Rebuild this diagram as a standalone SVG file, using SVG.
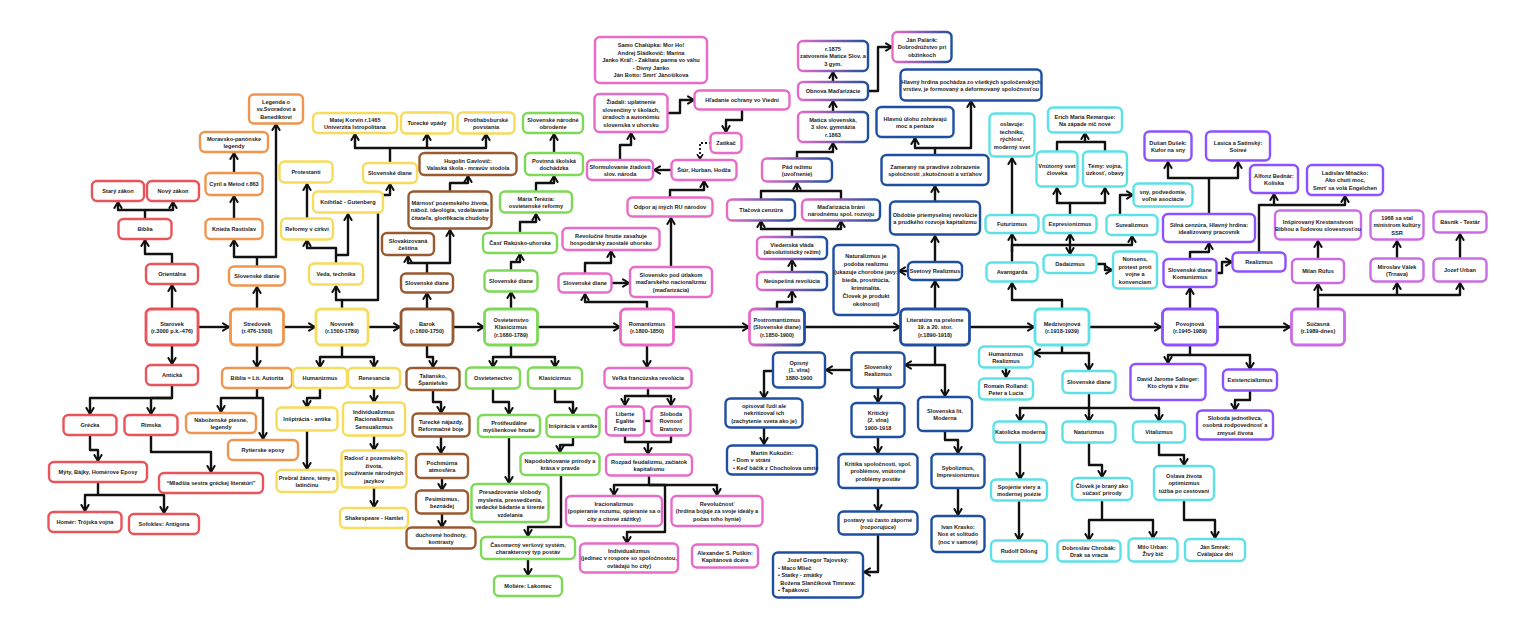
<svg xmlns="http://www.w3.org/2000/svg" width="1536" height="631" viewBox="0 0 1536 631">
<defs>
<linearGradient id="pbg" x1="0" y1="0" x2="1" y2="0"><stop offset="0" stop-color="#e86bc8"/><stop offset="1" stop-color="#1e4fa0"/></linearGradient>
<marker id="ah" viewBox="0 0 8 8" markerWidth="4" markerHeight="4" refX="6" refY="4" orient="auto" markerUnits="strokeWidth"><path d="M1,1 L6,4 L1,7" fill="none" stroke="#111" stroke-width="1.7" stroke-linecap="round" stroke-linejoin="round"/></marker>
<style>
rect{fill:#fff;stroke-width:2.4;rx:5;ry:5}
text{font-family:"Liberation Sans",Arial,sans-serif;font-size:5.6px;font-weight:bold;fill:#222;text-anchor:middle}
.r rect{stroke:#e8545a}.o rect{stroke:#f0954e}.y rect{stroke:#f7dc5c}.b rect{stroke:#9a5a30}.g rect{stroke:#7ed957}.p rect{stroke:#e86bc8}.pb rect{stroke:url(#pbg)}.bl rect{stroke:#1e4fa0}.c rect{stroke:#5ce1e6}.pu rect{stroke:#8c52ff}.lp rect{stroke:#cb6ce6}
.big rect{stroke-width:2.8}
#conn path{fill:none;stroke:#111;stroke-width:2.4;stroke-linejoin:round;marker-end:url(#ah)}
#conn path.na{marker-end:none}
#conn path.dot{stroke-dasharray:2 2;stroke-width:1.8}
</style>
</defs>
<rect x="0" y="0" width="1536" height="631" style="fill:#fff;stroke:none"/>
<g id="conn">
<path d="M198,327 H229"/><path d="M283,327 H315"/><path d="M368,327 H400"/><path d="M453,327 H484"/><path d="M538,327 H620"/><path d="M674,327 H749"/><path d="M805,327 H900"/><path d="M970,327 H1034"/><path d="M1089,327 H1161"/><path d="M1217,327 H1290"/>
<path d="M172,309 V285"/><path d="M172,264 V254 H145 V240"/><path d="M145,219 V210 H118 V202"/><path d="M145,210 H173 V202"/>
<path d="M172,345 V364"/><path d="M172,385 V398 H90 V414"/><path d="M172,398 H151 V414"/><path d="M90,435 V450 H98 V461"/><path d="M98,482 V495 H85 V511"/><path d="M98,495 H164 V513"/><path d="M151,435 V452 H211 V472"/>
<path d="M257,309 V287"/><path d="M257,267 V257 H234 V240"/><path d="M257,257 H276 V124"/><path d="M234,219 V196"/><path d="M234,173 V153"/>
<path d="M257,345 V367"/><path d="M257,388 V398 H221 V412"/><path d="M257,398 H263 V439"/>
<path d="M342,309 V300 H336 V286"/><path d="M342,300 H378 V195 H390 V184"/><path d="M336,264 V248 H307 V240"/><path d="M336,255 H348 V214"/><path d="M307,218 V184"/>
<path d="M390,163 V148 H355 V134"/><path d="M390,148 H427 V134"/><path d="M427,148 H486 V134"/>
<path d="M342,345 V357 H320 V367"/><path d="M342,357 H374 V367"/><path d="M320,388 V398 H307 V407"/><path d="M307,431 V469"/><path d="M374,388 V402"/><path d="M374,436 V450"/><path d="M374,488 V507"/>
<path d="M427,309 V293"/><path d="M427,273 V263 H408 V256"/><path d="M427,263 H450 V230"/><path d="M450,192 V183 H468 V176"/>
<path d="M427,345 V357 H433 V367"/><path d="M433,390 V402 H441 V413"/><path d="M441,437 V453"/><path d="M442,478 V490"/><path d="M442,514 V527"/>
<path d="M511,309 V292"/><path d="M511,270 V262 H520 V254"/><path d="M520,233 V222 H536 V214"/><path d="M536,192 V183 H554 V176"/><path d="M554,153 V134"/>
<path d="M511,345 V357 H493 V367"/><path d="M511,357 H555 V367"/><path d="M493,389 V402 H509 V414"/><path d="M509,437 V483"/><path d="M555,389 V402 H573 V414"/><path d="M573,437 V445 H560 V452"/><path d="M561,475 V527 H528 V536"/><path d="M528,559 V575"/>
<path d="M647,309 V302 H585 V294"/><path d="M585,273 V263 H611 V251"/><path d="M612,283 H629"/><path d="M671,267 V218"/><path d="M670,198 V190 H704 V181"/><path d="M672,170 H654"/><path d="M620,160 V145 H631 V133"/><path d="M668,113 H680 V100 H694"/><path d="M742,109 V120 H726 V132"/><path class="dot" d="M711,143 H700 V159"/>
<path d="M647,345 V367"/><path d="M648,388 V396 H625 V405"/><path d="M648,396 H671 V405"/><path class="na" d="M644,421 H652"/><path class="na" d="M625,435 V442 H671 V435"/><path d="M648,442 V454"/>
<path d="M649,476 V485 H614 V495"/><path d="M649,485 H717 V495"/><path d="M649,485 H665 V532 H627 V543"/>
<path d="M777,309 V302 H792 V291"/><path d="M792,272 V260"/><path d="M792,237 V229 H761 V221"/><path d="M792,229 H841 V221"/><path class="na" d="M761,199 V191 H841 V199"/><path d="M797,191 V183"/><path d="M797,159 V152 H833 V143"/><path d="M833,112 V101"/><path d="M833,82 V72"/><path d="M868,91 H878 V47 H892"/>
<path d="M935,309 V281"/><path d="M908,271 H899"/><path d="M935,262 V236"/><path d="M935,202 V186"/><path d="M935,155 V148 H915 V138"/><path d="M935,148 H971 V101"/>
<path d="M935,345 V365 H905"/><path d="M935,365 H945 V396"/><path d="M851,370 H826"/><path d="M773,371 H764 V398"/><path d="M764,428 V444"/><path d="M878,388 V402"/><path d="M878,437 V453"/><path d="M878,488 V511"/><path d="M878,535 V572 H864"/><path d="M945,431 V440 H958 V453"/><path d="M958,488 V515"/>
<path d="M1062,309 V300 H1012 V283"/><path d="M1012,263 V234"/><path d="M1012,215 V158"/><path d="M1012,252 V245 H1132 V236"/><path d="M1070,245 V234"/><path d="M1070,245 V254"/><path d="M1070,215 V203 H1057 V188"/><path d="M1070,203 H1105 V188"/><path class="na" d="M1057,152 V142 H1105 V152"/><path d="M1085,142 V133"/><path d="M1097,264 H1105 V270 H1112"/><path d="M1120,215 V195 H1133"/>
<path d="M1062,345 V353 H1034"/><path d="M1062,353 H1089 V370"/><path d="M1006,368 V377"/><path d="M1089,393 V408 H1020 V421"/><path d="M1089,408 V421"/><path d="M1089,408 H1159 V421"/><path d="M1020,443 V479"/><path d="M1019,501 V540"/><path d="M1089,443 V465 H1102 V477"/><path d="M1102,500 V520 H1089 V540"/><path d="M1102,520 H1153 V538"/><path d="M1159,443 V455 H1184 V465"/><path d="M1184,500 V520 H1215 V538"/>
<path d="M1190,309 V288"/><path d="M1190,259 V252 H1209 V243"/><path d="M1209,214 V178 H1168 V162"/><path d="M1209,178 H1238 V162"/><path d="M1216,273 H1222 V262 H1232"/><path d="M1259,253 V205 H1274 V194"/><path d="M1274,205 H1345 V196"/>
<path d="M1190,345 V355 H1168 V363"/><path d="M1190,355 H1250 V369"/><path d="M1250,391 V400 H1235 V410"/>
<path d="M1318,309 V284"/><path d="M1318,295 H1397 V283"/><path d="M1397,295 H1460 V283"/><path d="M1318,259 V241"/><path d="M1397,259 V241"/><path d="M1460,259 V234"/>
</g>
<g id="n_starovek" class="r big"><rect x="146" y="309" width="52" height="36"/><text x="172" y="325.5">Starovek<tspan x="172" dy="7.5">(r.3000 p.k.-476)</tspan></text></g>
<g id="n_orientalna" class="r"><rect x="146" y="264" width="52" height="20"/><text x="172" y="276.3">Orientálna</text></g>
<g id="n_biblia" class="r"><rect x="118.5" y="219" width="53" height="20"/><text x="145" y="231.3">Biblia</text></g>
<g id="n_stary" class="r"><rect x="92" y="181" width="52" height="20"/><text x="118" y="193.3">Starý zákon</text></g>
<g id="n_novy" class="r"><rect x="147" y="181" width="52" height="20"/><text x="173" y="193.3">Nový zákon</text></g>
<g id="n_anticka" class="r"><rect x="146" y="365" width="52" height="20"/><text x="172" y="377.3">Antická</text></g>
<g id="n_grecka" class="r"><rect x="63.5" y="415" width="53" height="20"/><text x="90" y="427.3">Grécka</text></g>
<g id="n_rimska" class="r"><rect x="124.5" y="415" width="53" height="20"/><text x="151" y="427.3">Rímska</text></g>
<g id="n_myty" class="r"><rect x="49" y="462" width="98" height="20"/><text x="98" y="474.3">Mýty, Bájky, Homérove Eposy</text></g>
<g id="n_mladsia" class="r"><rect x="159" y="473" width="104" height="20"/><text x="211" y="485.3">“Mladšia sestra gréckej literatúri”</text></g>
<g id="n_homer" class="r"><rect x="48.5" y="512" width="73" height="20"/><text x="85" y="524.3">Homér: Trójska vojna</text></g>
<g id="n_sofokles" class="r"><rect x="129" y="514" width="70" height="20"/><text x="164" y="526.3">Sofokles: Antigona</text></g>

<g id="n_stredovek" class="o big"><rect x="230.5" y="309" width="53" height="36"/><text x="257" y="325.5">Stredovek<tspan x="257" dy="7.5">(r.476-1500)</tspan></text></g>
<g id="n_sldianie" class="o"><rect x="229" y="266.5" width="56" height="19"/><text x="257" y="278.3">Slovenské dianie</text></g>
<g id="n_knieza" class="o"><rect x="205.5" y="219" width="57" height="20"/><text x="234" y="231.3">Knieža Rastislav</text></g>
<g id="n_cyril" class="o"><rect x="205.5" y="173" width="57" height="22"/><text x="234" y="186.3">Cyril a Metod r.863</text></g>
<g id="n_moravsko" class="o"><rect x="200" y="132" width="68" height="20"/><text x="234" y="140.5">Moravsko-panónske<tspan x="234" dy="7.5">legendy</tspan></text></g>
<g id="n_legenda" class="o"><rect x="249" y="94.5" width="54" height="29"/><text x="276" y="103.8">Legenda o<tspan x="276" dy="7.5">sv.Svoradovi a</tspan><tspan x="276" dy="7.5">Benediktovi</tspan></text></g>
<g id="n_bibliaaut" class="o"><rect x="222" y="368" width="70" height="20"/><text x="257" y="380.3">Biblia = Lit. Autorita</text></g>
<g id="n_nabozenske" class="o"><rect x="186" y="413" width="70" height="20"/><text x="221" y="421.5">Náboženské piesne,<tspan x="221" dy="7.5">legendy</tspan></text></g>
<g id="n_rytierske" class="o"><rect x="228" y="440" width="70" height="20"/><text x="263" y="452.3">Rytierske eposy</text></g>

<g id="n_novovek" class="y big"><rect x="316" y="309" width="52" height="36"/><text x="342" y="325.5">Novovek<tspan x="342" dy="7.5">(r.1500-1789)</tspan></text></g>
<g id="n_veda" class="y"><rect x="309" y="263.5" width="54" height="21"/><text x="336" y="276.3">Veda, technika</text></g>
<g id="n_reformy" class="y"><rect x="281" y="218.5" width="52" height="21"/><text x="307" y="231.3">Reformy v cirkvi</text></g>
<g id="n_protestanti" class="y"><rect x="279.5" y="161.5" width="53" height="21"/><text x="306" y="174.3">Protestanti</text></g>
<g id="n_knihtlac" class="y"><rect x="313" y="191.5" width="70" height="21"/><text x="348" y="204.3">Kníhtlač - Gutenberg</text></g>
<g id="n_ysldiane" class="y"><rect x="363" y="163" width="54" height="20"/><text x="390" y="175.3">Slovenské diane</text></g>
<g id="n_korvin" class="y"><rect x="313" y="113" width="84" height="20"/><text x="355" y="121.5">Matej Korvín r.1465<tspan x="355" dy="7.5">Univerzita Istropolitana</tspan></text></g>
<g id="n_tureckevpady" class="y"><rect x="401" y="112.5" width="52" height="21"/><text x="427" y="125.3">Turecké vpády</text></g>
<g id="n_protihabs" class="y"><rect x="457.5" y="112.5" width="57" height="21"/><text x="486" y="121.5">Protihabsburské<tspan x="486" dy="7.5">povstania</tspan></text></g>
<g id="n_humanizmus" class="y"><rect x="293" y="368" width="54" height="20"/><text x="320" y="380.3">Humanizmus</text></g>
<g id="n_renesancia" class="y"><rect x="348" y="368" width="52" height="20"/><text x="374" y="380.3">Renesancia</text></g>
<g id="n_inspant" class="y"><rect x="276.5" y="407.5" width="61" height="23"/><text x="307" y="421.3">Inšpirácia - antika</text></g>
<g id="n_prebral" class="y"><rect x="276.5" y="470" width="61" height="22"/><text x="307" y="479.5">Prebral žánre, témy a<tspan x="307" dy="7.5">latinčinu</tspan></text></g>
<g id="n_individ" class="y"><rect x="343" y="402.5" width="62" height="33"/><text x="374" y="413.8">Individualizmus<tspan x="374" dy="7.5">Racionalizmus</tspan><tspan x="374" dy="7.5">Sensualizmus</tspan></text></g>
<g id="n_radost" class="y"><rect x="341.5" y="450.5" width="65" height="37"/><text x="374" y="460">Radosť z pozemského<tspan x="374" dy="7.5">života,</tspan><tspan x="374" dy="7.5">používanie národných</tspan><tspan x="374" dy="7.5">jazykov</tspan></text></g>
<g id="n_shakespeare" class="y"><rect x="340" y="508" width="68" height="20"/><text x="374" y="520.3">Shakespeare - Hamlet</text></g>

<g id="n_barok" class="b big"><rect x="401" y="309" width="52" height="36"/><text x="427" y="325.5">Barok<tspan x="427" dy="7.5">(r.1600-1750)</tspan></text></g>
<g id="n_bsldiane" class="b"><rect x="401" y="273.5" width="52" height="19"/><text x="427" y="285.3">Slovenské diane</text></g>
<g id="n_slovakiz" class="b"><rect x="382" y="233" width="52" height="22"/><text x="408" y="242.5">Slovakizovaná<tspan x="408" dy="7.5">čeština</tspan></text></g>
<g id="n_marnost" class="b"><rect x="408.5" y="191.5" width="83" height="37"/><text x="450" y="204.8">Márnosť pozemského života,<tspan x="450" dy="7.5">nábož. ideológia, vzdelávanie</tspan><tspan x="450" dy="7.5">čitateľa, glorifikacia chudoby</tspan></text></g>
<g id="n_hugolin" class="b"><rect x="419.5" y="153" width="97" height="22"/><text x="468" y="162.5">Hugolín Gavlovič:<tspan x="468" dy="7.5">Valaská škola - mravúv stodola</tspan></text></g>
<g id="n_taliansko" class="b"><rect x="406.5" y="368" width="53" height="22"/><text x="433" y="377.5">Taliansko,<tspan x="433" dy="7.5">Španielsko</tspan></text></g>
<g id="n_tureckenaj" class="b"><rect x="412.5" y="413.5" width="57" height="23"/><text x="441" y="423.5">Turecké nájazdy,<tspan x="441" dy="7.5">Reformačné boje</tspan></text></g>
<g id="n_pochmurna" class="b"><rect x="416" y="454" width="52" height="24"/><text x="442" y="464.5">Pochmúrna<tspan x="442" dy="7.5">atmosféra</tspan></text></g>
<g id="n_pesimizmus" class="b"><rect x="416" y="490.5" width="52" height="23"/><text x="442" y="500.5">Pesimizmus,<tspan x="442" dy="7.5">beznádej</tspan></text></g>
<g id="n_duchovne" class="b"><rect x="406.5" y="527.5" width="69" height="21"/><text x="441" y="536.5">duchovné hodnoty,<tspan x="441" dy="7.5">kontrasty</tspan></text></g>

<g id="n_osvietenstvo" class="g big"><rect x="484.5" y="309" width="53" height="36"/><text x="511" y="321.8">Osvietenstvo<tspan x="511" dy="7.5">Klasicizmus</tspan><tspan x="511" dy="7.5">(r.1680-1789)</tspan></text></g>
<g id="n_gsldiane" class="g"><rect x="484.5" y="270.5" width="53" height="21"/><text x="511" y="283.3">Slovenské diane</text></g>
<g id="n_cast" class="g"><rect x="483" y="233" width="74" height="20"/><text x="520" y="245.3">Časť Rakúsko-uhorska</text></g>
<g id="n_maria" class="g"><rect x="500" y="191.5" width="72" height="21"/><text x="536" y="200.5">Mária Terézia:<tspan x="536" dy="7.5">osvietenské reformy</tspan></text></g>
<g id="n_povinna" class="g"><rect x="525" y="153" width="58" height="22"/><text x="554" y="162.5">Povinná školská<tspan x="554" dy="7.5">dochádzka</tspan></text></g>
<g id="n_obrodenie" class="g"><rect x="523" y="113" width="60" height="20"/><text x="553" y="121.5">Slovenské národné<tspan x="553" dy="7.5">obrodenie</tspan></text></g>
<g id="n_osvietenectvo" class="g"><rect x="466" y="367.5" width="54" height="21"/><text x="493" y="380.3">Osvietenectvo</text></g>
<g id="n_klasicizmus" class="g"><rect x="528" y="367.5" width="54" height="21"/><text x="555" y="380.3">Klasicizmus</text></g>
<g id="n_protifeud" class="g"><rect x="478" y="415" width="62" height="22"/><text x="509" y="424.5">Protifeudálne<tspan x="509" dy="7.5">myšlienkové hnutie</tspan></text></g>
<g id="n_inspvant" class="g"><rect x="546.5" y="415" width="53" height="22"/><text x="573" y="428.3">Inšpirácia v antike</text></g>
<g id="n_napodob" class="g"><rect x="520.5" y="453" width="79" height="22"/><text x="560" y="462.5">Napodobňovanie prírody a<tspan x="560" dy="7.5">krása v pravde</tspan></text></g>
<g id="n_presadz" class="g"><rect x="471.5" y="484" width="77" height="38"/><text x="510" y="494">Presadzovanie slobody<tspan x="510" dy="7.5">myslenia, presvedčenia,</tspan><tspan x="510" dy="7.5">vedecké bádanie a šírenie</tspan><tspan x="510" dy="7.5">vzdelania</tspan></text></g>
<g id="n_casomerny" class="g"><rect x="481" y="537" width="94" height="22"/><text x="528" y="546.5">Časomerný veršový systém,<tspan x="528" dy="7.5">charakterový typ postáv</tspan></text></g>
<g id="n_moliere" class="g"><rect x="494" y="576" width="68" height="20"/><text x="528" y="588.3">Moliére: Lakomec</text></g>

<g id="n_romantizmus" class="p big"><rect x="620.5" y="309" width="53" height="36"/><text x="647" y="325.5">Romantizmus<tspan x="647" dy="7.5">(r.1800-1850)</tspan></text></g>
<g id="n_psldiane" class="p"><rect x="558.5" y="273.5" width="53" height="19"/><text x="585" y="285.3">Slovenské diane</text></g>
<g id="n_revhnutie" class="p"><rect x="562.5" y="228" width="97" height="22"/><text x="611" y="237.5">Revolučné hnutie zasahuje<tspan x="611" dy="7.5">hospodársky zaostalé uhorsko</tspan></text></g>
<g id="n_utlak" class="p"><rect x="630" y="267" width="82" height="30"/><text x="671" y="276.8">Slovensko pod útlakom<tspan x="671" dy="7.5">maďarského nacionalizmu</tspan><tspan x="671" dy="7.5">(maďarizácia)</tspan></text></g>
<g id="n_odpor" class="p"><rect x="627.5" y="197.5" width="85" height="19"/><text x="670" y="209.3">Odpor aj iných RU národov</text></g>
<g id="n_stur" class="p"><rect x="671.5" y="160" width="65" height="20"/><text x="704" y="172.3">Štúr, Hurban, Hodža</text></g>
<g id="n_sformul" class="p"><rect x="587" y="160" width="66" height="20"/><text x="620" y="168.5">Sformulovanie žiadosti<tspan x="620" dy="7.5">slov. národa</tspan></text></g>
<g id="n_ziadali" class="p"><rect x="594.5" y="94" width="73" height="38"/><text x="631" y="104">Žiadali: uplatnenie<tspan x="631" dy="7.5">slovenčiny v školách,</tspan><tspan x="631" dy="7.5">úradoch a autonómiu</tspan><tspan x="631" dy="7.5">slovenska v uhorsku</tspan></text></g>
<g id="n_chalupka" class="p"><rect x="595" y="37" width="112" height="46"/><text x="651" y="47.3">Samo Chalúpka: Mor Ho!<tspan x="651" dy="7.5">Andrej Sládkovič: Marína</tspan><tspan x="651" dy="7.5">Janko Kráľ: - Zakliata panna vo váhu</tspan><tspan x="651" dy="7.5">- Divný Janko</tspan><tspan x="651" dy="7.5">Ján Botto: Smrť Jánošíkova</tspan></text></g>
<g id="n_hladanie" class="p"><rect x="694.5" y="90.5" width="95" height="19"/><text x="742" y="102.3">Hľadanie ochrany vo Viedni</text></g>
<g id="n_zatikac" class="p"><rect x="710.5" y="133" width="31" height="20"/><text x="726" y="145.3">Zatikač</text></g>
<g id="n_velka" class="p"><rect x="604.5" y="368" width="87" height="20"/><text x="648" y="380.3">Veľká francúzska revolúcia</text></g>
<g id="n_liberte" class="p"><rect x="606" y="406.5" width="38" height="29"/><text x="625" y="415.8">Liberte<tspan x="625" dy="7.5">Egalite</tspan><tspan x="625" dy="7.5">Fraterite</tspan></text></g>
<g id="n_sloboda" class="p"><rect x="651.5" y="406.5" width="39" height="29"/><text x="671" y="415.8">Sloboda<tspan x="671" dy="7.5">Rovnosť</tspan><tspan x="671" dy="7.5">Bratstvo</tspan></text></g>
<g id="n_rozpad" class="p"><rect x="606" y="454.5" width="86" height="21"/><text x="649" y="463.5">Rozpad feudalizmu, začiatok<tspan x="649" dy="7.5">kapitalismu</tspan></text></g>
<g id="n_iracion" class="p"><rect x="566" y="496" width="96" height="30"/><text x="614" y="505.8">Iracionalizmus<tspan x="614" dy="7.5">(popieranie rozumu, opieranie sa o</tspan><tspan x="614" dy="7.5">city a citové zážitky)</tspan></text></g>
<g id="n_revoluc" class="p"><rect x="671.5" y="496" width="91" height="30"/><text x="717" y="505.8">Revolučnosť<tspan x="717" dy="7.5">(hrdina bojuje za svoje ideály a</tspan><tspan x="717" dy="7.5">počas toho hynie)</tspan></text></g>
<g id="n_pindivid" class="p"><rect x="580" y="543.5" width="98" height="29"/><text x="629" y="552.8">Individualizmus<tspan x="629" dy="7.5">(jedinec v rospore so spoločnostou,</tspan><tspan x="629" dy="7.5">ovládajú ho city)</tspan></text></g>
<g id="n_puskin" class="p"><rect x="692" y="544.5" width="66" height="23"/><text x="725" y="554.5">Alexander S. Puškin:<tspan x="725" dy="7.5">Kapitánová dcéra</tspan></text></g>

<g id="n_postrom" class="pb big"><rect x="749.5" y="309" width="55" height="36"/><text x="777" y="321.8">Postromantizmus<tspan x="777" dy="7.5">(Slovenské diane)</tspan><tspan x="777" dy="7.5">(r.1850-1900)</tspan></text></g>
<g id="n_neusp" class="pb"><rect x="757" y="272" width="70" height="18"/><text x="792" y="283.3">Neúspešná revolúcia</text></g>
<g id="n_viedenska" class="pb"><rect x="757" y="237" width="70" height="22"/><text x="792" y="246.5">Viedenská vláda<tspan x="792" dy="7.5">(absolutistický režim)</tspan></text></g>
<g id="n_tlacova" class="pb"><rect x="727" y="199.5" width="68" height="21"/><text x="761" y="212.3">Tlačová cenzúra</text></g>
<g id="n_madbrani" class="pb"><rect x="802" y="199.5" width="78" height="21"/><text x="841" y="208.5">Maďarizácia bráni<tspan x="841" dy="7.5">národnému spol. rozvoju</tspan></text></g>
<g id="n_pad" class="pb"><rect x="762" y="158.5" width="70" height="23"/><text x="797" y="168.5">Pád režimu<tspan x="797" dy="7.5">(uvoľnenie)</tspan></text></g>
<g id="n_matica" class="pb"><rect x="798" y="112" width="70" height="30"/><text x="833" y="121.8">Matica slovenská,<tspan x="833" dy="7.5">3 slov. gymnázia</tspan><tspan x="833" dy="7.5">r.1863</tspan></text></g>
<g id="n_obnova" class="pb"><rect x="798" y="82" width="70" height="18"/><text x="833" y="93.3">Obnova Maďarizácie</text></g>
<g id="n_r1875" class="pb"><rect x="798" y="41" width="70" height="30"/><text x="833" y="50.8">r.1875<tspan x="833" dy="7.5">zatvorenie Matice Slov. a</tspan><tspan x="833" dy="7.5">3 gym.</tspan></text></g>
<g id="n_palarik" class="pb"><rect x="892.5" y="32" width="59" height="30"/><text x="922" y="41.8">Ján Palárik:<tspan x="922" dy="7.5">Dobrodrúžstvo pri</tspan><tspan x="922" dy="7.5">obžinkoch</tspan></text></g>

<g id="n_literatura" class="bl big"><rect x="900.5" y="309" width="69" height="36"/><text x="935" y="321.8">Literatúra na prelome<tspan x="935" dy="7.5">19. a 20. stor.</tspan><tspan x="935" dy="7.5">(r.1890-1918)</tspan></text></g>
<g id="n_svetovy" class="bl"><rect x="908" y="262" width="54" height="18"/><text x="935" y="273.3">Svetový Realizmus</text></g>
<g id="n_naturalizmus" class="bl"><rect x="833.5" y="245" width="65" height="70"/><text x="866" y="257.5">Naturalizmus je<tspan x="866" dy="8">podoba realizmu</tspan><tspan x="866" dy="8">(ukazuje chorobné javy:</tspan><tspan x="866" dy="8">bieda, prostitúcia,</tspan><tspan x="866" dy="8">kriminalita.</tspan><tspan x="866" dy="8">Človek je produkt</tspan><tspan x="866" dy="8">okolností)</tspan></text></g>
<g id="n_obdobie" class="bl"><rect x="890" y="201.5" width="90" height="33"/><text x="935" y="216.5">Obdobie priemyselnej revolúcie<tspan x="935" dy="7.5">a prudkého rozvoja kapitalizmu</tspan></text></g>
<g id="n_zamerany" class="bl"><rect x="881.5" y="155" width="107" height="30"/><text x="935" y="168.5">Zameraný na pravdivé zobrazenie<tspan x="935" dy="7.5">spoločnosti ,skutočnosti a vzťahov</tspan></text></g>
<g id="n_hlavnu" class="bl"><rect x="876.5" y="107" width="77" height="30"/><text x="915" y="120.5">Hlavnú úlohu zohrávajú<tspan x="915" dy="7.5">moc a peniaze</tspan></text></g>
<g id="n_hlavny" class="bl"><rect x="900.5" y="69.5" width="141" height="31"/><text x="971" y="83.5">Hlavný hrdina pochádza zo všetkých spoločenských<tspan x="971" dy="7.5">vrstiev, je formovaný a deformovaný spoločnosťou</tspan></text></g>
<g id="n_slrealizmus" class="bl"><rect x="851.5" y="352.5" width="53" height="35"/><text x="878" y="368.5">Slovenský<tspan x="878" dy="7.5">Realizmus</tspan></text></g>
<g id="n_opisny" class="bl"><rect x="773" y="352.5" width="52" height="35"/><text x="799" y="364.8">Opisný<tspan x="799" dy="7.5">(1. vlna)</tspan><tspan x="799" dy="7.5">1880-1900</tspan></text></g>
<g id="n_opisoval" class="bl"><rect x="725.5" y="398.5" width="77" height="29"/><text x="764" y="407.8">opisoval ľudí ale<tspan x="764" dy="7.5">nekritizoval ich</tspan><tspan x="764" dy="7.5">(zachytenie sveta ako je)</tspan></text></g>
<g id="n_kukucin" class="bl"><rect x="727" y="445.5" width="90" height="29"/><text x="772" y="454.8">Martin Kukučín:<tspan x="733" dy="7.5" style="text-anchor:start">•  Dom v stráni</tspan><tspan x="733" dy="7.5" style="text-anchor:start">•  Keď báčik z Chocholova umrie</tspan></text></g>
<g id="n_kriticky" class="bl"><rect x="851.5" y="403" width="53" height="34"/><text x="878" y="414.8">Kritický<tspan x="878" dy="7.5">(2. vlna)</tspan><tspan x="878" dy="7.5">1900-1918</tspan></text></g>
<g id="n_kritika" class="bl"><rect x="838.5" y="454" width="79" height="34"/><text x="878" y="465.8">Kritika spoločnosti, spol.<tspan x="878" dy="7.5">problémov, vnútorné</tspan><tspan x="878" dy="7.5">problémy postáv</tspan></text></g>
<g id="n_postavy" class="bl"><rect x="838.5" y="511.5" width="79" height="23"/><text x="878" y="521.5">postavy sú často záporné<tspan x="878" dy="7.5">(rozporujúce)</tspan></text></g>
<g id="n_tajovsky" class="bl"><rect x="773" y="552.5" width="90" height="45"/><text x="818" y="562">Jozef Gregor Tajovský:<tspan x="778" dy="7.5" style="text-anchor:start">•  Maco Mlieč</tspan><tspan x="778" dy="7.5" style="text-anchor:start">•  Statky - zmätky</tspan><tspan x="818" dy="7.5">Božena Slančíková Timrava:</tspan><tspan x="778" dy="7.5" style="text-anchor:start">•  Ťapákovci</tspan></text></g>
<g id="n_moderna" class="bl"><rect x="918" y="397" width="54" height="34"/><text x="945" y="412.5">Slovenská lit.<tspan x="945" dy="7.5">Moderna</tspan></text></g>
<g id="n_sybolizmus" class="bl"><rect x="931.5" y="454" width="53" height="34"/><text x="958" y="469.5">Sybolizmus,<tspan x="958" dy="7.5">Impresionizmus</tspan></text></g>
<g id="n_krasko" class="bl"><rect x="931.5" y="516" width="53" height="36"/><text x="958" y="528.8">Ivan Krasko:<tspan x="958" dy="7.5">Nox et solitudo</tspan><tspan x="958" dy="7.5">(noc v samote)</tspan></text></g>

<g id="n_medzivojnova" class="c big"><rect x="1035" y="309" width="54" height="36"/><text x="1062" y="325.5">Medzivojnová<tspan x="1062" dy="7.5">(r.1918-1939)</tspan></text></g>
<g id="n_avantgarda" class="c"><rect x="986.5" y="262.5" width="51" height="19"/><text x="1012" y="274.3">Avantgarda</text></g>
<g id="n_futurizmus" class="c"><rect x="985.5" y="215" width="53" height="18"/><text x="1012" y="226.3">Futurizmus</text></g>
<g id="n_oslavuje" class="c"><rect x="989.5" y="113.5" width="45" height="43"/><text x="1012" y="126">oslavuje:<tspan x="1012" dy="7.5">techniku,</tspan><tspan x="1012" dy="7.5">rýchlosť,</tspan><tspan x="1012" dy="7.5">moderný svet</tspan></text></g>
<g id="n_expres" class="c"><rect x="1043.5" y="215" width="53" height="18"/><text x="1070" y="226.3">Expresionizmus</text></g>
<g id="n_vnutorny" class="c"><rect x="1036.5" y="151.5" width="41" height="35"/><text x="1057" y="167.5">Vnútorný svet<tspan x="1057" dy="7.5">človeka</tspan></text></g>
<g id="n_temy" class="c"><rect x="1083" y="151.5" width="44" height="35"/><text x="1105" y="167.5">Témy: vojna,<tspan x="1105" dy="7.5">úzkosť, obavy</tspan></text></g>
<g id="n_remarque" class="c"><rect x="1048" y="107.5" width="74" height="25"/><text x="1085" y="118.5">Erich Maria Remarque:<tspan x="1085" dy="7.5">Na západe nič nové</tspan></text></g>
<g id="n_surealizmus" class="c"><rect x="1106.5" y="215" width="51" height="20"/><text x="1132" y="227.3">Surealizmus</text></g>
<g id="n_sny" class="c"><rect x="1133.5" y="183.5" width="59" height="23"/><text x="1163" y="193.5">sny, podvedomie,<tspan x="1163" dy="7.5">voľné asociácie</tspan></text></g>
<g id="n_dadaizmus" class="c"><rect x="1043.5" y="255" width="53" height="18"/><text x="1070" y="266.3">Dadaizmus</text></g>
<g id="n_nonsens" class="c"><rect x="1113" y="251.5" width="44" height="37"/><text x="1135" y="261">Nonsens,<tspan x="1135" dy="7.5">protest proti</tspan><tspan x="1135" dy="7.5">vojne a</tspan><tspan x="1135" dy="7.5">konvenciam</tspan></text></g>
<g id="n_humreal" class="c"><rect x="979" y="346.5" width="54" height="21"/><text x="1006" y="355.5">Humanizmus<tspan x="1006" dy="7.5">Realizmus</tspan></text></g>
<g id="n_rolland" class="c"><rect x="979" y="378.5" width="54" height="21"/><text x="1006" y="387.5">Romain Rolland:<tspan x="1006" dy="7.5">Peter a Lucia</tspan></text></g>
<g id="n_csldiane" class="c"><rect x="1062.5" y="371" width="53" height="22"/><text x="1089" y="384.3">Slovenské diane</text></g>
<g id="n_katolicka" class="c"><rect x="993.5" y="421.5" width="53" height="21"/><text x="1020" y="434.3">Katolícka moderna</text></g>
<g id="n_naturizmus" class="c"><rect x="1062.5" y="421.5" width="53" height="21"/><text x="1089" y="434.3">Naturizmus</text></g>
<g id="n_vitalizmus" class="c"><rect x="1133" y="421.5" width="52" height="21"/><text x="1159" y="434.3">Vitalizmus</text></g>
<g id="n_spojenie" class="c"><rect x="991" y="479.5" width="56" height="21"/><text x="1019" y="488.5">Spojenie viery a<tspan x="1019" dy="7.5">modernej poézie</tspan></text></g>
<g id="n_clovek" class="c"><rect x="1072" y="478" width="60" height="22"/><text x="1102" y="487.5">Človek je braný ako<tspan x="1102" dy="7.5">súčasť prírody</tspan></text></g>
<g id="n_oslava" class="c"><rect x="1154" y="466" width="60" height="34"/><text x="1184" y="477.8">Oslava života<tspan x="1184" dy="7.5">optimizmus</tspan><tspan x="1184" dy="7.5">túžba po cestovaní</tspan></text></g>
<g id="n_dilong" class="c"><rect x="991" y="540.5" width="56" height="21"/><text x="1019" y="553.3">Rudolf Dilong</text></g>
<g id="n_chrobak" class="c"><rect x="1057.5" y="540.5" width="63" height="21"/><text x="1089" y="549.5">Dobroslav Chrobák:<tspan x="1089" dy="7.5">Drak sa vracia</tspan></text></g>
<g id="n_milo" class="c"><rect x="1128.5" y="538.5" width="49" height="23"/><text x="1153" y="548.5">Milo Urban:<tspan x="1153" dy="7.5">Živý bič</tspan></text></g>
<g id="n_smrek" class="c"><rect x="1185" y="539" width="60" height="22"/><text x="1215" y="548.5">Ján Smrek:<tspan x="1215" dy="7.5">Cválajúce dni</tspan></text></g>

<g id="n_povojnova" class="pu big"><rect x="1162.5" y="309" width="55" height="36"/><text x="1190" y="325.5">Povojnová<tspan x="1190" dy="7.5">(r.1945-1989)</tspan></text></g>
<g id="n_komunizmus" class="pu"><rect x="1163.5" y="259" width="53" height="28"/><text x="1190" y="271.5">Slovenské diane<tspan x="1190" dy="7.5">Komunizmus</tspan></text></g>
<g id="n_silna" class="pu"><rect x="1163" y="214" width="92" height="28"/><text x="1209" y="226.5">Silná cenzúra, Hlavný hrdina:<tspan x="1209" dy="7.5">idealizovaný pracovník</tspan></text></g>
<g id="n_dusek" class="pu"><rect x="1144.5" y="131.5" width="47" height="29"/><text x="1168" y="144.5">Dušan Dušek:<tspan x="1168" dy="7.5">Kufor na sny</tspan></text></g>
<g id="n_lasica" class="pu"><rect x="1206" y="131.5" width="64" height="29"/><text x="1238" y="144.5">Lasica a Satinský:<tspan x="1238" dy="7.5">Soireé</tspan></text></g>
<g id="n_realizmus" class="pu"><rect x="1232.5" y="252.5" width="53" height="19"/><text x="1259" y="264.3">Realizmus</text></g>
<g id="n_bednar" class="pu"><rect x="1250" y="165" width="48" height="28"/><text x="1274" y="177.5">Alfonz Bednár:<tspan x="1274" dy="7.5">Kolíska</tspan></text></g>
<g id="n_mnacko" class="pu"><rect x="1307" y="165" width="76" height="30"/><text x="1345" y="174.8">Ladislav Mňačko:<tspan x="1345" dy="7.5">Ako chutí moc,</tspan><tspan x="1345" dy="7.5">Smrť sa volá Engelchen</tspan></text></g>
<g id="n_salinger" class="pu"><rect x="1130.5" y="364" width="75" height="36"/><text x="1168" y="380.5">David Jarome Salinger:<tspan x="1168" dy="7.5">Kto chytá v žite</tspan></text></g>
<g id="n_existenc" class="pu"><rect x="1223" y="369.5" width="54" height="21"/><text x="1250" y="382.3">Existencializmus</text></g>
<g id="n_slobodaj" class="pu"><rect x="1197" y="410.5" width="76" height="29"/><text x="1235" y="419.8">Sloboda jednotlivca,<tspan x="1235" dy="7.5">osobná zodpovednosť a</tspan><tspan x="1235" dy="7.5">zmysel života</tspan></text></g>

<g id="n_sucasna" class="lp big"><rect x="1291.5" y="309" width="53" height="36"/><text x="1318" y="325.5">Súčasná<tspan x="1318" dy="7.5">(r.1989-dnes)</tspan></text></g>
<g id="n_rufus" class="lp"><rect x="1292" y="259" width="52" height="24"/><text x="1318" y="273.3">Milan Rúfus</text></g>
<g id="n_inspir" class="lp"><rect x="1275" y="210.5" width="86" height="29"/><text x="1318" y="223.5">Inšpirovaný Krestanstvom<tspan x="1318" dy="7.5">Bibliou a ľudovou slovesnosťou</tspan></text></g>
<g id="n_valek" class="lp"><rect x="1370.5" y="258.5" width="53" height="23"/><text x="1397" y="268.5">Miroslav Válek<tspan x="1397" dy="7.5">(Trnava)</tspan></text></g>
<g id="n_1968" class="lp"><rect x="1370.5" y="210.5" width="53" height="29"/><text x="1397" y="219.8">1968 sa stal<tspan x="1397" dy="7.5">ministrom kultúry</tspan><tspan x="1397" dy="7.5">SSR</tspan></text></g>
<g id="n_urban" class="lp"><rect x="1433.5" y="258.5" width="53" height="23"/><text x="1460" y="272.3">Jozef Urban</text></g>
<g id="n_basnik" class="lp"><rect x="1433.5" y="211.5" width="53" height="21"/><text x="1460" y="224.3">Básnik - Textár</text></g>
</svg>
